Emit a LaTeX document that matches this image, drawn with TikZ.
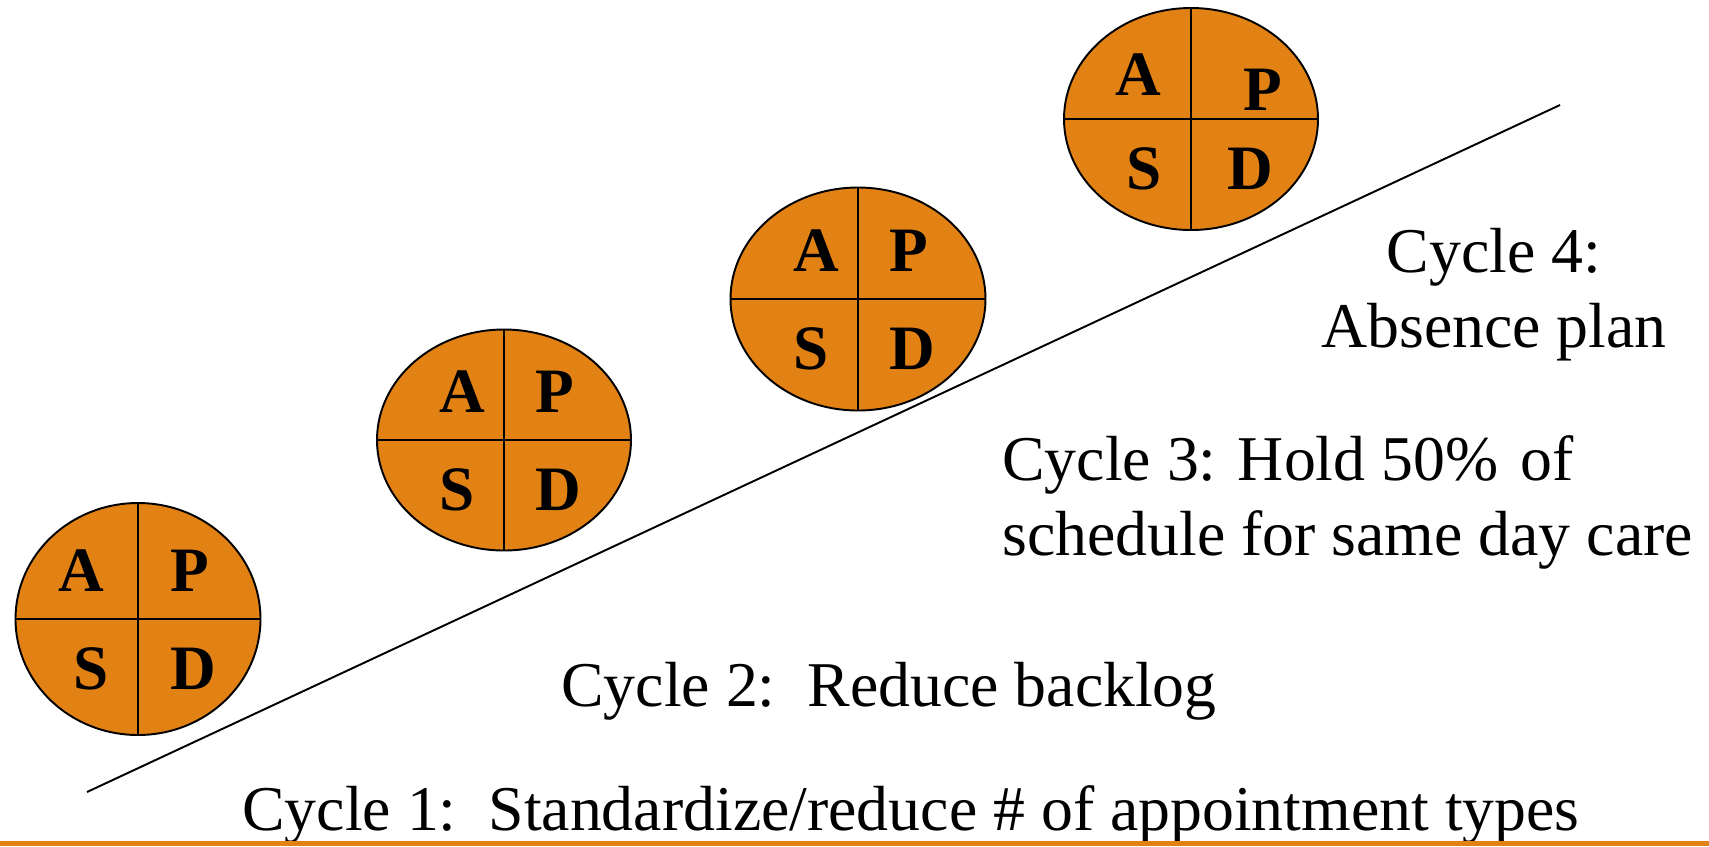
\documentclass[tikz,border=0pt]{standalone}
\usepackage{fontspec}
\setmainfont{Liberation Serif}
\usepackage{tikz}
\usetikzlibrary{shapes.geometric,positioning,calc}
\definecolor{PDSAORANGE}{RGB}{227,130,20}
\tikzstyle{ELLIPSE_1} = [ellipse, draw=black, line width=1.1pt, fill=PDSAORANGE, inner sep=0pt]
\tikzstyle{LETTER} = [inner sep=0pt, font=\fontsize{36}{43}\selectfont\bfseries]
\tikzstyle{LABEL} = [inner sep=0pt, font=\fontsize{36.3}{42.5}\selectfont]
\tikzstyle{LINE} = [draw, line width=1.1pt]

\begin{document}
\begin{tikzpicture}[x=0.02cm, y=-0.02cm]
\useasboundingbox (0,0) rectangle (1709,846);
% Ramp
\coordinate (low) at (87,792);
\coordinate (high) at (1560,105);
\path [LINE] (low) -- (high);
% Cycles
\foreach \n/\cx/\cy/\w/\h/\ax/\ay/\px/\py/\dx in {c1/138/619/245/232/-57/-48/52/-48/55,
                                           c2/504/440/254/221/-42/-48/51/-48/54,
                                           c3/858/299/255/223/-42/-48/51/-48/54,
                                           c4/1191/119/254/222/-53/-44/72/-29/59}{
  \node [ELLIPSE_1, minimum width=\w*0.02cm, minimum height=\h*0.02cm] (\n) at (\cx,\cy) {};
  \path [LINE] (\n.north) -- (\n.south);
  \path [LINE] (\n.west) -- (\n.east);
  \node [LETTER] (\n A) at ($(\n)+(\ax,\ay)$) {A};
  \node [LETTER] (\n P) at ($(\n)+(\px,\py)$) {P};
  \node [LETTER] (\n S) at ($(\n)+(-47,50)$) {S};
  \node [LETTER] (\n D) at ($(\n)+(\dx,50)$) {D};
}
% Labels (base = last line)
\node [LABEL, anchor=base west] (cyc1) at (242,830) {Cycle 1:~~Standardize/reduce \# of appointment types};
\node [LABEL, anchor=base west] (cyc2) at (561,706) {Cycle 2:~~Reduce backlog};
\node [LABEL, anchor=base west, align=left] (cyc3) at (1002,555) {Cycle 3: Hold 50\%\hspace{0.1em} of\\schedule for same day care};
\node [LABEL, anchor=base, align=center] (cyc4) at (1494,347) {Cycle 4:\\Absence plan};
% Bottom rule
\fill [PDSAORANGE] (0,841) rectangle (1709,846);
\end{tikzpicture}
\end{document}
